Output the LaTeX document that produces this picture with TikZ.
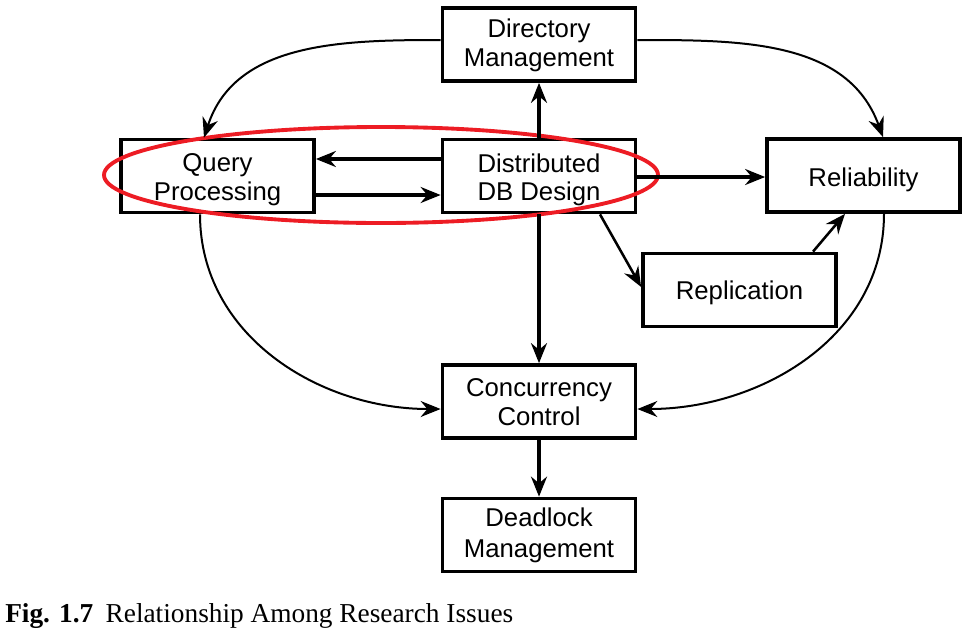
\documentclass[tikz,border=0pt]{standalone}
\usepackage{fontspec}
\setmainfont{Liberation Serif}
\newfontfamily\boxfont{Liberation Sans}
\usetikzlibrary{arrows.meta,shapes.geometric}
\definecolor{hlred}{RGB}{237,28,36}
\begin{document}
\begin{tikzpicture}[x=0.75pt,y=-0.75pt,
  issue/.style={draw,line width=2.8pt,minimum width=193*0.75pt,minimum height=73*0.75pt,inner sep=0pt},
  lbl/.style={inner sep=0pt,align=center,font=\boxfont\fontsize{19.3}{21.5}\selectfont},
  tip/.style={-{Stealth[length=15pt,width=12pt,inset=5pt]}},
  thick arrow/.style={tip,line width=2.3pt},
  mid arrow/.style={tip,line width=1.9pt},
  thin arrow/.style={tip,line width=1.5pt}]
\useasboundingbox (0,0) rectangle (967,629);
\node[issue] (dir) at (539,44.5) {};
\node[issue] (qp)  at (217.5,176) {};
\node[issue] (ddb) at (539,176) {};
\node[issue] (rel) at (863.5,175.5) {};
\node[issue] (rep) at (739.5,290) {};
\node[issue] (cc)  at (539,401.5) {};
\node[issue] (dl)  at (539,535) {};
\node[lbl] (dir-t) at ([yshift=-0.5pt]dir.center) {Directory\\Management};
\node[lbl] (qp-t)  at ([yshift=-3pt]qp.center) {Query\\Processing};
\node[lbl] (ddb-t) at ([yshift=-3pt]ddb.center) {Distributed\\DB Design};
\node[lbl] (rel-t) at ([yshift=-3pt]rel.center) {Reliability};
\node[lbl] (rep-t) at ([yshift=-2pt]rep.center) {Replication};
\node[lbl] (cc-t)  at ([yshift=-0.5pt]cc.center) {Concurrency\\Control};
\node[lbl,font=\boxfont\fontsize{19.3}{23.5}\selectfont] (dl-t) at ([yshift=-0.5pt]dl.center) {Deadlock\\Management};
% red ellipse
\node[draw=hlred,line width=2.9pt,ellipse,minimum width=554*0.75pt,minimum height=96*0.75pt,inner sep=0pt] (hl) at (381,175) {};
% straight connectors
\draw[thick arrow] (ddb.north) -- (dir.south);
\draw[thick arrow] (ddb.west |- 0,159) coordinate (a1) -- (qp.east |- a1);
\draw[thick arrow] (qp.east |- 0,195) coordinate (a2) -- (ddb.west |- a2);
\draw[thick arrow] (ddb.east |- 0,177) coordinate (a3) -- (rel.west |- a3);
\draw[thick arrow] (ddb.south) -- (cc.north);
\draw[thick arrow] (cc.south) -- (dl.north);
\draw[mid arrow] (ddb.south -| 600,0) coordinate (a4) -- (rep.west |- 0,287);
\draw[mid arrow] (rep.north -| 813,0) -- (rel.south -| 845,0);
% curved connectors
\draw[thin arrow] (dir.west |- 0,40) to[out=180,in=72] (qp.north -| 204,0);
\draw[thin arrow] (dir.east |- 0,40) to[out=0,in=110] (rel.north -| 883,0);
\draw[thin arrow] (qp.south -| 200,0) to[out=-90,in=180] (cc.west |- 0,409);
\draw[thin arrow] (rel.south -| 884,0) to[out=-90,in=0] (cc.east |- 0,409);
% caption
\node[anchor=base west,inner sep=0pt,font=\fontsize{20.5}{24}\selectfont] (cap) at (5,622)
  {\textbf{Fig. 1.7}\hspace{0.45em}Relationship Among Research Issues};
\end{tikzpicture}
\end{document}
